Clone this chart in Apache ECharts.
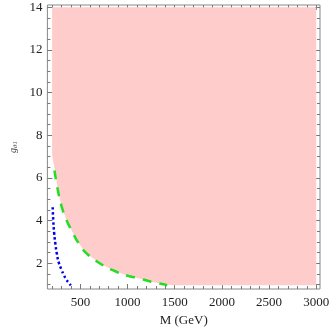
<!DOCTYPE html>
<html><head><meta charset="utf-8">
<script src="https://cdn.jsdelivr.net/npm/echarts@6/dist/echarts.min.js"></script>
<style>html,body{margin:0;padding:0;background:#fff}#c{width:332px;height:332px}</style>
</head><body><div id="c"></div>
<script>
// Excluded (pink) region boundary: M (GeV) and g values, traced clockwise
const regionM = [200, 200, 210, 232, 260, 298, 350, 414, 480, 563, 700, 843, 1000, 1107, 1250, 1420, 1500, 3000, 3000];
const regionG = [14, 7.1, 6.8, 6.33, 5.45, 4.71, 4.05, 3.48, 2.95, 2.48, 2.02, 1.68, 1.42, 1.32, 1.14, 1.0, 0.98, 0.98, 14];
// Green dashed curve
const greenM = [225, 260, 298, 350, 414, 480, 563, 700, 843, 1000, 1107, 1250, 1420];
const greenG = [6.35, 5.45, 4.71, 4.05, 3.48, 2.95, 2.48, 2.02, 1.68, 1.42, 1.32, 1.14, 0.98];
// Blue dotted curve
const blueM = [206, 212, 222, 235, 249, 270, 299, 325, 348, 375, 398];
const blueG = [4.63, 4.0, 3.4, 2.9, 2.48, 2.05, 1.71, 1.45, 1.25, 1.1, 0.97];
// Tick labels
const xMajorTicks = [500, 1000, 1500, 2000, 2500, 3000];
const yMajorTicks = [2, 4, 6, 8, 10, 12, 14];

const X_MIN = 150, X_MAX = 3040, Y_MIN = 0.8, Y_MAX = 14.1;
const xMinor = []; for (let v = 200; v <= 3000; v += 100) if (v % 500 !== 0) xMinor.push(v);
const yMinor = []; for (let v = 1; v <= 14; v += 0.5) if (v % 2 !== 0) yMinor.push(v);

const font = {fontFamily: 'Liberation Serif', fontSize: 13, color: '#222'};
const tickCol = '#777';
const plain = v => String(v);
function xAx(pos, vals, len, labels) {
  return {type: 'value', position: pos, min: X_MIN, max: X_MAX, splitLine: {show: false},
    axisLine: {show: false},
    axisTick: {show: true, inside: true, length: len, customValues: vals, lineStyle: {color: tickCol}},
    axisLabel: labels ? Object.assign({show: true, customValues: vals, margin: 7, formatter: plain}, font) : {show: false},
    name: labels ? 'M (GeV)' : '', nameLocation: 'middle', nameGap: 25,
    nameTextStyle: Object.assign({}, font)};
}
function yAx(pos, vals, len, labels) {
  return {type: 'value', position: pos, min: Y_MIN, max: Y_MAX, splitLine: {show: false},
    axisLine: {show: false},
    axisTick: {show: true, inside: true, length: len, customValues: vals, lineStyle: {color: tickCol}},
    axisLabel: labels ? Object.assign({show: true, customValues: vals, margin: 5, formatter: plain}, font) : {show: false},
    name: labels ? '{a|g}{b|θ1}' : '', nameLocation: 'middle', nameGap: 21, nameRotate: 90,
    nameTextStyle: {rich: {a: {fontFamily: 'Liberation Serif', fontStyle: 'italic', fontSize: 10, color: '#444'},
                           b: {fontFamily: 'Liberation Serif', fontStyle: 'italic', fontSize: 7, color: '#444', padding: [4, 0, 0, 0]}}}};
}

const chart = echarts.init(document.getElementById('c'), null, {renderer: 'canvas'});
chart.setOption({
  animation: false,
  grid: {left: 30, right: 10, top: 5, bottom: 39, show: true, borderColor: '#888', borderWidth: 1, backgroundColor: 'transparent'},
  xAxis: [xAx('bottom', xMajorTicks, 5, true), xAx('bottom', xMinor, 3, false), xAx('top', xMajorTicks, 5, false), xAx('top', xMinor, 3, false)],
  yAxis: [yAx('left', yMajorTicks, 5, true), yAx('left', yMinor, 3, false), yAx('right', yMajorTicks, 5, false), yAx('right', yMinor, 3, false)],
  series: [
    {type: 'custom', xAxisIndex: 0, yAxisIndex: 0, data: [[regionM[0], regionG[0]]], z: 1,
      renderItem: function (params, api) {
        const pts = regionM.map((m, i) => api.coord([m, regionG[i]]));
        return {type: 'polygon', shape: {points: pts}, style: {fill: '#FFCCCC'}};
      }},
    {type: 'line', xAxisIndex: 0, yAxisIndex: 0, smooth: true, symbol: 'none', z: 3,
      data: greenM.map((m, i) => [m, greenG[i]]),
      lineStyle: {color: '#22DD22', width: 2.5, type: [9, 8]}},
    {type: 'line', xAxisIndex: 0, yAxisIndex: 0, smooth: true, symbol: 'none', z: 3,
      data: blueM.map((m, i) => [m, blueG[i]]),
      lineStyle: {color: '#0000EE', width: 2.5, type: [2.5, 2.5]}}
  ]
});
</script></body></html>
